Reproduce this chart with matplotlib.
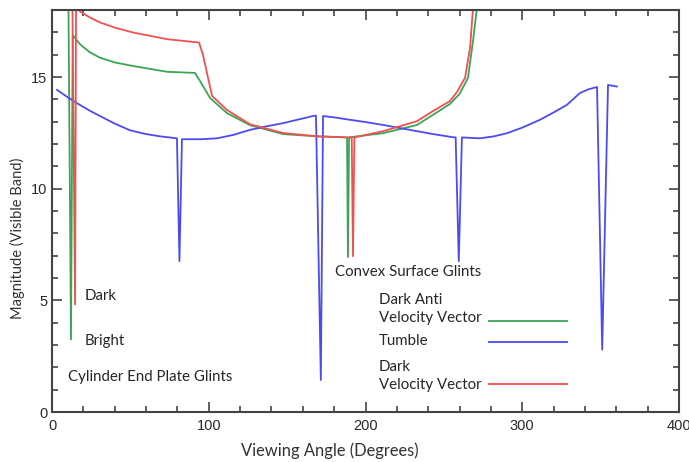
import matplotlib.pyplot as plt
import numpy as np

plt.rcParams['font.family'] = ['Lato', 'DejaVu Sans']

# Tumble (blue)
tumble_x = [3.2, 10.0, 17.9, 24.0, 30.6, 40.0, 49.8, 60.0, 68.9, 79.7, 81.3, 82.9, 95.0, 105.3,
            116.0, 126.3, 137.0, 147.4, 157.0, 166.5, 168.4, 171.5, 172.9, 181.0, 190.1, 200.0,
            211.2, 222.0, 232.9, 244.0, 255.8, 257.5, 259.5, 261.5, 273.0, 282.0, 290.3, 300.0,
            311.3, 320.0, 328.5, 336.8, 342.0, 347.7, 351.0, 354.7, 360.4]
tumble_y = [14.43, 14.1, 13.75, 13.5, 13.26, 12.92, 12.62, 12.45, 12.35, 12.26, 6.76, 12.22, 12.22, 12.26,
            12.42, 12.64, 12.8, 12.94, 13.1, 13.26, 13.28, 1.44, 13.26, 13.19, 13.09, 12.99,
            12.86, 12.72, 12.58, 12.44, 12.31, 12.3, 6.76, 12.3, 12.26, 12.35, 12.49, 12.74,
            13.09, 13.42, 13.76, 14.29, 14.45, 14.56, 2.8, 14.65, 14.58]

# Dark Anti Velocity Vector (green)
anti_x = [10.3, 12.1, 13.2, 17.9, 24.0, 30.6, 40.0, 51.7, 73.4, 91.2, 94.4, 100.8, 111.6, 126.3, 147.4,
          169.0, 188.2, 188.8, 189.5, 190.1, 211.2, 232.9, 243.0, 253.9, 260.0, 265.4, 268.6, 271.1, 272.5]
anti_y = [20.0, 3.25, 16.88, 16.47, 16.12, 15.87, 15.66, 15.5, 15.24, 15.19, 14.83, 14.07, 13.39, 12.85, 12.45,
          12.35, 12.3, 6.94, 12.3, 12.31, 12.49, 12.86, 13.31, 13.8, 14.25, 14.97, 16.64, 18.12, 20.0]

# Dark Velocity Vector (red)
vel_x = [12.8, 14.7, 15.4, 16.0, 17.9, 24.0, 30.6, 40.0, 51.7, 73.4, 93.8, 96.3, 102.1, 111.6, 126.3, 147.4,
         169.0, 190.1, 191.2, 192.0, 192.9, 211.2, 232.9, 243.0, 253.9, 258.5, 263.5, 266.7, 268.6, 270.0]
vel_y = [20.0, 4.82, 20.0, 18.1, 17.94, 17.68, 17.45, 17.22, 17.0, 16.7, 16.55, 16.0, 14.16, 13.53, 12.89, 12.5,
         12.35, 12.3, 12.3, 6.98, 12.3, 12.58, 13.03, 13.48, 13.93, 14.35, 14.97, 16.32, 18.12, 20.0]

series_labels = ['Dark Anti\nVelocity Vector', 'Tumble', 'Dark\nVelocity Vector']
series_colors = ['#3aa655', '#4b4bf0', '#f05050']

# annotation texts (x, y in data units)
notes = ['Dark', 'Bright', 'Cylinder End Plate Glints', 'Convex Surface Glints']
notes_x = [21, 21, 10.2, 180.5]
notes_y = [5.2, 3.17, 1.58, 6.28]

# hand-made key: label x, key line span, row heights
key_text_x = 208.6
key_text_y = [4.6, 3.2, 1.62]
key_line_x = [279, 328.5]
key_line_y = [4.1, 3.12, 1.25]

fig = plt.figure(figsize=(6.89, 4.62), dpi=100)
ax = fig.add_axes([0.0755, 0.108, 0.91, 0.87])

ax.plot(anti_x, anti_y, color=series_colors[0], lw=1.3)
ax.plot(tumble_x, tumble_y, color=series_colors[1], lw=1.3)
ax.plot(vel_x, vel_y, color=series_colors[2], lw=1.3)

ax.set_xlim(0, 400)
ax.set_ylim(0, 18)
ax.set_xticks(np.arange(0, 401, 100))
ax.set_xticks(np.arange(0, 401, 20), minor=True)
ax.set_yticks(np.arange(0, 19, 5))
ax.set_yticks(np.arange(0, 19, 1), minor=True)
ax.tick_params(which='both', direction='in', top=True, right=True, color='#444444', width=1.2)
ax.tick_params(which='major', length=7)
ax.tick_params(which='minor', length=4)
ax.tick_params(axis='x', pad=5)
for lab in ax.get_xticklabels() + ax.get_yticklabels():
    lab.set_family('Liberation Sans')
    lab.set_fontsize(10.5)
    lab.set_color('#2a2a2a')
for s in ax.spines.values():
    s.set_color('#444444')
    s.set_linewidth(1.5)

tfont = dict(fontsize=10.8, color='#262626')
for t, x, y in zip(notes, notes_x, notes_y):
    ax.text(x, y, t, va='center', **tfont)

for lab, col, ty, ly in zip(series_labels, series_colors, key_text_y, key_line_y):
    ax.text(key_text_x, ty, lab, va='center', linespacing=1.35, **tfont)
    ax.plot(key_line_x, [ly, ly], color=col, lw=1.3)

ax.set_xlabel('Viewing Angle (Degrees)', fontsize=11.9, color='#333333')
ax.xaxis.set_label_coords(0.443, -0.075)
ax.set_ylabel('Magnitude (Visible Band)', fontsize=10.5, color='#333333')
ax.yaxis.set_label_coords(-0.043, 0.433)

fig.savefig('out.png', dpi=100)
